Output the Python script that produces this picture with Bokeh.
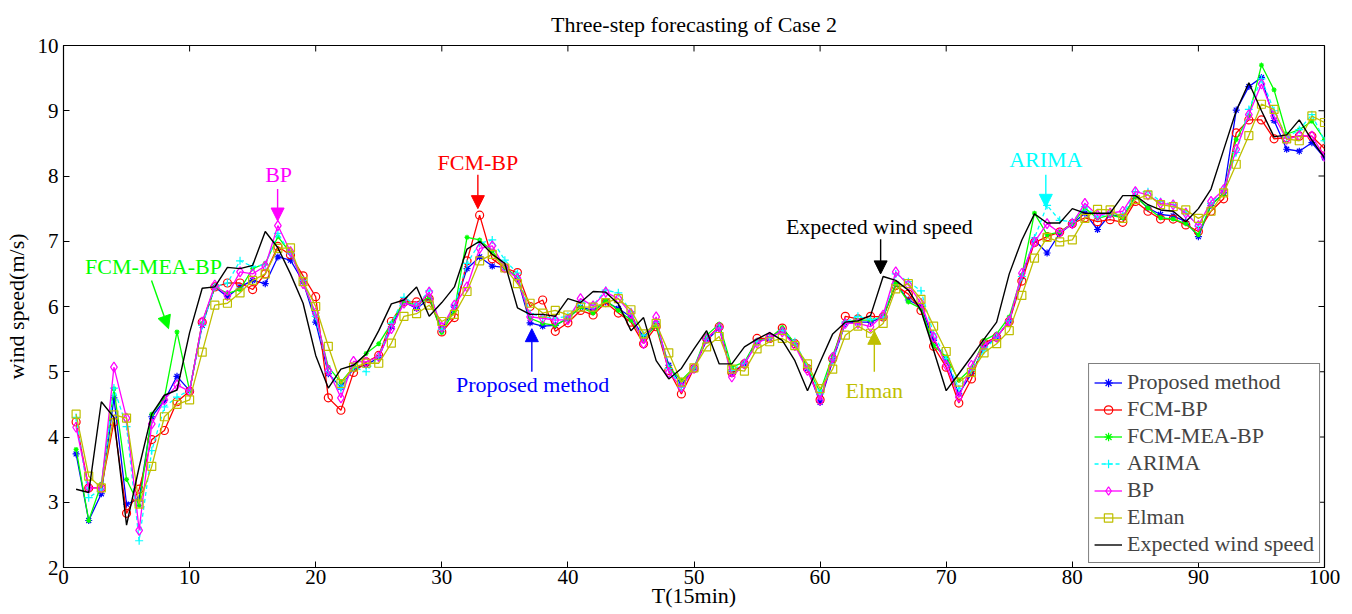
from bokeh.plotting import figure
from bokeh.models import (Range1d, FixedTicker, Legend, LegendItem,
                          Arrow, NormalHead, Label, Title)
from bokeh.embed import file_html
from bokeh.resources import INLINE

T = list(range(1, 101))

expected = [3.2, 3.15, 4.54, 4.3, 2.65, 3.54, 4.35, 4.64, 4.72, 5.6,
            6.28, 6.3, 6.6, 6.58, 6.63, 7.15, 6.9, 6.5, 6.05, 5.25,
            4.75, 5.04, 5.1, 5.27, 5.63, 6.04, 6.1, 6.3, 5.85, 6.06,
            6.3, 6.88, 7.0, 6.8, 6.66, 5.98, 5.88, 5.88, 5.85, 6.12,
            6.06, 6.23, 6.22, 6.04, 5.63, 5.83, 5.17, 4.89, 5.05, 5.35,
            5.63, 5.12, 5.12, 5.38, 5.5, 5.6, 5.48, 5.17, 4.71, 5.15,
            5.58, 5.76, 5.78, 5.86, 6.46, 6.4, 6.25, 5.94, 5.33, 4.71,
            4.97, 5.23, 5.5, 5.76, 6.5, 7.02, 7.42, 7.28, 7.28, 7.5,
            7.43, 7.43, 7.43, 7.7, 7.7, 7.56, 7.48, 7.46, 7.3, 7.5,
            7.8, 8.4, 9.0, 9.43, 9.0, 8.6, 8.63, 8.86, 8.55, 8.28]

proposed = [3.74, 2.72, 3.13, 4.6, 2.97, 3.05, 4.31, 4.56, 4.93, 4.71,
            5.71, 6.3, 6.15, 6.3, 6.4, 6.35, 6.76, 6.71, 6.38, 5.76,
            4.97, 4.76, 5.05, 5.1, 5.22, 5.69, 6.07, 5.97, 6.12, 5.65,
            5.99, 6.58, 6.76, 6.62, 6.6, 6.43, 5.75, 5.7, 5.71, 5.82,
            5.99, 5.94, 6.07, 5.97, 5.84, 5.53, 5.74, 5.1, 4.79, 5.06,
            5.48, 5.67, 4.97, 5.12, 5.46, 5.51, 5.63, 5.43, 5.05, 4.53,
            5.17, 5.74, 5.76, 5.76, 5.84, 6.35, 6.1, 6.0, 5.48, 5.18,
            4.66, 4.97, 5.38, 5.53, 5.78, 6.46, 7.02, 6.82, 7.12, 7.27,
            7.43, 7.18, 7.41, 7.37, 7.69, 7.51, 7.41, 7.39, 7.3, 7.07,
            7.55, 7.74, 9.01, 9.37, 9.51, 8.85, 8.41, 8.38, 8.51, 8.28]

fcm_bp = [4.23, 3.22, 3.22, 4.23, 2.83, 3.2, 3.96, 4.1, 4.54, 4.7,
          5.76, 6.3, 6.36, 6.36, 6.26, 6.5, 6.92, 6.79, 6.47, 6.15,
          4.6, 4.41, 4.99, 5.15, 5.25, 5.77, 6.07, 6.07, 6.12, 5.61,
          5.83, 6.7, 7.4, 6.73, 6.59, 6.52, 6.0, 6.1, 5.62, 5.75,
          5.94, 5.87, 6.06, 5.9, 5.76, 5.43, 5.69, 5.02, 4.66, 5.05,
          5.51, 5.69, 4.99, 5.12, 5.51, 5.51, 5.67, 5.43, 5.05, 4.57,
          5.2, 5.85, 5.81, 5.85, 5.84, 6.32, 6.19, 5.94, 5.39, 5.07,
          4.52, 4.89, 5.44, 5.53, 5.77, 6.39, 6.98, 7.07, 7.14, 7.27,
          7.36, 7.3, 7.33, 7.29, 7.61, 7.46, 7.34, 7.34, 7.25, 7.15,
          7.46, 7.65, 8.66, 8.86, 8.86, 8.57, 8.59, 8.61, 8.61, 8.42]

fcm_mea_bp = [3.81, 2.72, 3.28, 4.74, 3.35, 2.95, 4.35, 4.6, 5.61, 4.71,
              5.74, 6.3, 6.2, 6.26, 6.58, 6.66, 7.07, 6.82, 6.38, 5.85,
              5.07, 4.84, 5.07, 5.28, 5.43, 5.74, 6.07, 6.02, 6.15, 5.6,
              5.94, 7.06, 7.02, 6.85, 6.6, 6.45, 5.82, 5.74, 5.71, 5.82,
              5.99, 5.9, 6.1, 5.94, 5.79, 5.5, 5.71, 5.07, 4.87, 5.06,
              5.56, 5.73, 5.07, 5.15, 5.48, 5.51, 5.68, 5.43, 5.07, 4.69,
              5.25, 5.76, 5.79, 5.79, 5.84, 6.35, 6.07, 5.97, 5.4, 5.23,
              4.87, 5.05, 5.48, 5.58, 5.84, 6.48, 7.43, 7.1, 7.14, 7.27,
              7.51, 7.35, 7.4, 7.36, 7.69, 7.51, 7.36, 7.34, 7.27, 7.1,
              7.56, 7.72, 8.56, 8.92, 9.7, 9.32, 8.64, 8.71, 8.84, 8.56]

arima = [4.3, 3.07, 3.2, 4.75, 4.16, 2.41, 3.79, 4.46, 4.61, 4.72,
         5.71, 6.3, 6.36, 6.7, 6.61, 6.64, 7.12, 6.81, 6.4, 5.85,
         5.0, 4.74, 5.07, 5.0, 5.23, 5.74, 6.14, 6.02, 6.24, 5.65,
         6.0, 6.66, 6.97, 7.02, 6.71, 6.51, 5.89, 5.84, 5.82, 5.85,
         6.07, 6.02, 6.25, 6.21, 5.92, 5.56, 5.76, 5.05, 4.76, 5.06,
         5.5, 5.67, 5.02, 5.13, 5.46, 5.51, 5.63, 5.46, 5.07, 4.66,
         5.18, 5.76, 5.85, 5.8, 5.84, 6.5, 6.38, 6.24, 5.58, 5.2,
         4.74, 5.02, 5.33, 5.53, 5.78, 6.46, 7.05, 7.55, 7.32, 7.3,
         7.53, 7.37, 7.43, 7.4, 7.76, 7.76, 7.61, 7.56, 7.45, 7.23,
         7.58, 7.79, 8.36, 9.02, 9.49, 9.0, 8.59, 8.71, 8.94, 8.54]

bp = [4.15, 3.22, 3.22, 5.07, 4.29, 2.57, 4.2, 4.57, 4.8, 4.7,
      5.76, 6.33, 6.17, 6.53, 6.5, 6.62, 7.24, 6.84, 6.35, 5.9,
      5.02, 4.6, 5.16, 5.15, 5.23, 5.66, 6.05, 6.0, 6.22, 5.68,
      6.02, 6.3, 6.89, 6.93, 6.59, 6.43, 5.84, 5.82, 5.79, 5.8,
      6.12, 6.01, 6.22, 6.12, 5.89, 5.43, 5.84, 4.99, 4.76, 5.05,
      5.51, 5.68, 4.92, 5.12, 5.44, 5.53, 5.61, 5.4, 5.02, 4.56,
      5.22, 5.74, 5.74, 5.69, 5.87, 6.53, 6.33, 6.05, 5.53, 5.1,
      4.61, 5.1, 5.41, 5.53, 5.78, 6.51, 6.99, 7.27, 7.13, 7.27,
      7.58, 7.4, 7.43, 7.46, 7.76, 7.71, 7.58, 7.56, 7.43, 7.24,
      7.61, 7.79, 8.41, 8.94, 9.41, 8.92, 8.56, 8.62, 8.61, 8.3]

elman = [4.35, 3.4, 3.22, 4.34, 4.29, 2.97, 3.55, 4.31, 4.5, 4.57,
         5.3, 6.02, 6.05, 6.21, 6.4, 6.5, 6.89, 6.9, 6.38, 6.0,
         5.39, 4.82, 5.07, 5.13, 5.13, 5.44, 5.85, 5.89, 6.02, 5.77,
         5.88, 6.23, 6.7, 6.8, 6.59, 6.35, 6.05, 5.9, 5.94, 5.87,
         5.99, 5.99, 6.06, 6.12, 5.95, 5.58, 5.74, 5.29, 4.84, 5.06,
         5.38, 5.54, 5.04, 5.01, 5.35, 5.46, 5.51, 5.4, 5.12, 4.74,
         5.04, 5.56, 5.7, 5.59, 5.74, 6.27, 6.35, 6.11, 5.7, 5.31,
         4.84, 4.99, 5.29, 5.43, 5.63, 6.17, 6.74, 7.06, 6.99, 7.02,
         7.35, 7.49, 7.48, 7.35, 7.64, 7.71, 7.56, 7.53, 7.48, 7.35,
         7.46, 7.74, 8.18, 8.62, 9.1, 9.02, 8.57, 8.54, 8.92, 8.82]

x_ticks = list(range(0, 101, 10))
y_ticks = list(range(2, 11))

FONT = "Liberation Serif"
BLUE, RED, GREEN, CYAN, MAG, YEL, BLK = "#0000FF", "#FF0000", "#00FF00", "#00FFFF", "#FF00FF", "#BFBF00", "#000000"
X0, X1, Y0, Y1 = 0, 100, 2, 10

p = figure(width=1352, height=614, output_backend="svg", toolbar_location=None,
           x_range=Range1d(X0, X1), y_range=Range1d(Y0, Y1),
           min_border_left=62, min_border_right=28, min_border_top=43, min_border_bottom=47)
p.title = Title(text="Three-step forecasting of Case 2", align="center",
                text_font=FONT, text_font_size="22px", text_font_style="normal",
                text_color="black", standoff=18)
p.grid.visible = False
p.outline_line_color = "black"
p.outline_line_width = 1.2
p.background_fill_color = "white"
p.border_fill_color = "white"

for ax in [p.xaxis[0], p.yaxis[0]]:
    ax.major_tick_in = 6
    ax.major_tick_out = 0
    ax.minor_tick_in = 0
    ax.minor_tick_out = 0
    ax.axis_line_color = "black"
    ax.major_label_text_font = FONT
    ax.major_label_text_font_size = "21px"
    ax.major_label_text_color = "black"
    ax.axis_label_text_font = FONT
    ax.axis_label_text_font_size = "22px"
    ax.axis_label_text_font_style = "normal"
    ax.axis_label_text_color = "black"
p.xaxis[0].ticker = FixedTicker(ticks=x_ticks)
p.yaxis[0].ticker = FixedTicker(ticks=y_ticks)
p.xaxis[0].axis_label = "T(15min)"
p.yaxis[0].axis_label = "wind speed(m/s)"
p.xaxis[0].major_label_standoff = 2
p.xaxis[0].axis_label_standoff = -4
p.yaxis[0].major_label_standoff = 5
p.yaxis[0].axis_label_standoff = 6

# inner ticks on top and right edges (MATLAB box style)
tx = 6 * (X1 - X0) / 1262.0
ty = 6 * (Y1 - Y0) / 524.0
p.segment(x0=x_ticks, y0=[Y1] * len(x_ticks), x1=x_ticks, y1=[Y1 - ty] * len(x_ticks),
          line_color="black", line_width=1)
p.segment(x0=[X1] * len(y_ticks), y0=y_ticks, x1=[X1 - tx] * len(y_ticks), y1=y_ticks,
          line_color="black", line_width=1)

series = [
    ("Proposed method", proposed, BLUE, "asterisk", 7, "solid"),
    ("FCM-BP", fcm_bp, RED, "circle", 8, "solid"),
    ("FCM-MEA-BP", fcm_mea_bp, GREEN, "asterisk", 5, "solid"),
    ("ARIMA", arima, CYAN, "cross", 8, "4 3"),
    ("BP", bp, MAG, "diamond", 10, "solid"),
    ("Elman", elman, YEL, "square", 8, "solid"),
]
items = []
for name, vals, col, mk, sz, dash in series:
    lr = p.line(T, vals, line_color=col, line_width=1.3, line_dash=dash)
    sr = p.scatter(T, vals, marker=mk, size=sz, line_color=col, fill_color=None, line_width=1.2)
    items.append(LegendItem(label=name, renderers=[lr, sr]))
lr = p.line(T, expected, line_color=BLK, line_width=1.4)
items.append(LegendItem(label="Expected wind speed", renderers=[lr]))

legend = Legend(items=items, location="bottom_right", border_line_color="black",
                border_line_width=1.2, label_text_font=FONT, label_text_font_size="22px",
                label_height=21, glyph_height=21, glyph_width=28, spacing=1,
                padding=5, margin=4, label_standoff=5, background_fill_alpha=1)
p.add_layout(legend)

annots = [
    ("FCM-MEA-BP", GREEN, 7.14, 6.62, 6.98, 6.40, 8.33, 5.66),
    ("BP", MAG, 17.06, 8.02, 16.98, 7.80, 16.98, 7.31),
    ("FCM-BP", RED, 32.86, 8.20, 32.86, 8.02, 32.86, 7.50),
    ("Proposed method", BLUE, 37.2, 4.80, 37.14, 5.00, 37.14, 5.66),
    ("Expected wind speed", BLK, 64.7, 7.22, 64.8, 7.03, 64.8, 6.50),
    ("Elman", YEL, 64.3, 4.72, 64.3, 5.00, 64.3, 5.62),
    ("ARIMA", CYAN, 77.9, 8.25, 77.9, 8.02, 77.9, 7.52),
]
for txt, col, tx_, ty_, x0, y0, x1, y1 in annots:
    p.add_layout(Label(x=tx_, y=ty_, text=txt, text_color=col, text_font=FONT,
                       text_font_size="22px", text_align="center", text_baseline="middle"))
    p.add_layout(Arrow(x_start=x0, y_start=y0, x_end=x1, y_end=y1, line_color=col, line_width=1.4,
                       end=NormalHead(size=13, fill_color=col, line_color=col)))

open("out.html", "w").write(file_html(p, INLINE))
